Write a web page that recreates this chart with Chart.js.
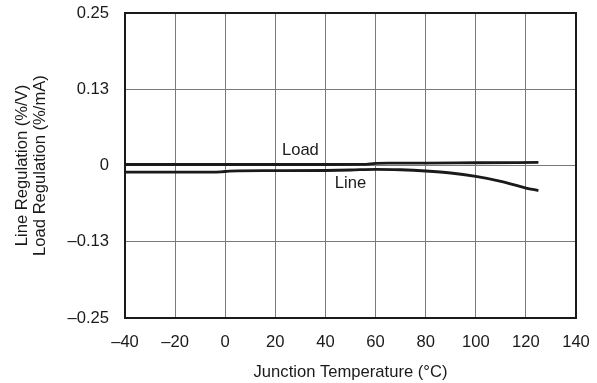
<!DOCTYPE html>
<html>
<head>
<meta charset="utf-8">
<script src="https://cdn.jsdelivr.net/npm/chart.js@4/dist/chart.umd.min.js"></script>
<style>
  html, body { margin: 0; padding: 0; background: #fff; }
  #wrap { width: 597px; height: 383px; }
</style>
</head>
<body>
<div id="wrap"><canvas id="reg"></canvas></div>
<script>
// values
const loadTemp = [-40, -20, 0, 20, 40, 55, 60, 65, 80, 100, 125];
const loadReg = [0.0016, 0.0016, 0.0016, 0.0016, 0.0016, 0.0017, 0.0035, 0.004, 0.004, 0.0045, 0.005];

const lineTemp = [-40, -20, -5, 0, 5, 20, 40, 50, 60, 70, 80, 90, 100, 110, 120, 125];
const lineReg = [-0.0107, -0.0107, -0.011, -0.0098, -0.0087, -0.0085, -0.0082, -0.0074, -0.0062, -0.007, -0.009, -0.0123, -0.018, -0.026, -0.037, -0.041];

const xTicks = [-40, -20, 0, 20, 40, 60, 80, 100, 120, 140];
const yTicks = [-0.25, -0.125, 0, 0.125, 0.25];
const yTickLabels = ['\u20130.25', '\u20130.13', '0', '0.13', '0.25'];

const curveLabels = [
  { text: 'Load', x: 30, y: 0.025 },
  { text: 'Line', x: 50, y: -0.029 }
];

const font = 'Liberation Sans, Arial, Helvetica, sans-serif';
const fs = 16.6;
const ink = '#1a1a1a';

const toPts = (xs, ys) => xs.map((x, i) => ({ x: x, y: ys[i] }));

// drop the label overflow padding so the layout padding sets the plot box
const noOverflow = s => {
  s.paddingTop = 0;
  s.paddingBottom = 0;
  s.paddingLeft = 0;
  s.paddingRight = 0;
};

const frame = {
  id: 'frame',
  afterDatasetsDraw(chart) {
    const { ctx, chartArea: a, scales } = chart;
    ctx.save();
    ctx.strokeStyle = ink;
    ctx.lineWidth = 2;
    ctx.strokeRect(a.left, a.top, a.right - a.left, a.bottom - a.top);
    ctx.fillStyle = ink;
    ctx.font = fs + 'px ' + font;
    ctx.textAlign = 'center';
    ctx.textBaseline = 'middle';
    curveLabels.forEach(l => {
      ctx.fillText(l.text, scales.x.getPixelForValue(l.x), scales.y.getPixelForValue(l.y));
    });
    ctx.restore();
  }
};

new Chart(document.getElementById('reg'), {
  type: 'line',
  data: {
    datasets: [{
      label: 'Load',
      data: toPts(loadTemp, loadReg),
      borderColor: ink,
      borderWidth: 2.8,
      pointRadius: 0,
      cubicInterpolationMode: 'monotone'
    }, {
      label: 'Line',
      data: toPts(lineTemp, lineReg),
      borderColor: ink,
      borderWidth: 2.8,
      pointRadius: 0,
      cubicInterpolationMode: 'monotone'
    }]
  },
  options: {
    responsive: true,
    maintainAspectRatio: false,
    animation: false,
    layout: { padding: { top: 13, right: 21, bottom: 0, left: 0 } },
    plugins: { legend: { display: false }, tooltip: { enabled: false } },
    scales: {
      x: {
        type: 'linear',
        min: -40,
        max: 140,
        afterBuildTicks: s => { s.ticks = xTicks.map(v => ({ value: v })); },
        afterFit: s => { s.height = 65; noOverflow(s); },
        grid: { color: '#7a7a7a', lineWidth: 1, drawTicks: false },
        border: { display: false },
        ticks: {
          color: ink,
          padding: 14,
          font: { family: font, size: fs },
          callback: v => String(v).replace('-', '\u2013')
        },
        title: {
          display: true,
          text: 'Junction Temperature (\u00b0C)',
          color: ink,
          font: { family: font, size: fs },
          padding: { top: 4, bottom: 1 }
        }
      },
      y: {
        min: -0.25,
        max: 0.25,
        afterBuildTicks: s => { s.ticks = yTicks.map(v => ({ value: v })); },
        afterFit: s => { s.width = 125; noOverflow(s); },
        grid: { color: '#7a7a7a', lineWidth: 1, drawTicks: false },
        border: { display: false },
        ticks: {
          color: ink,
          padding: 16,
          font: { family: font, size: fs },
          callback: (v, i) => yTickLabels[i]
        },
        title: {
          display: true,
          text: ['Line Regulation (%/V)', 'Load Regulation (%/mA)'],
          color: ink,
          font: { family: font, size: fs, lineHeight: 1.1 },
          padding: { top: 13, bottom: 0 }
        }
      }
    }
  },
  plugins: [frame]
});
</script>
</body>
</html>
